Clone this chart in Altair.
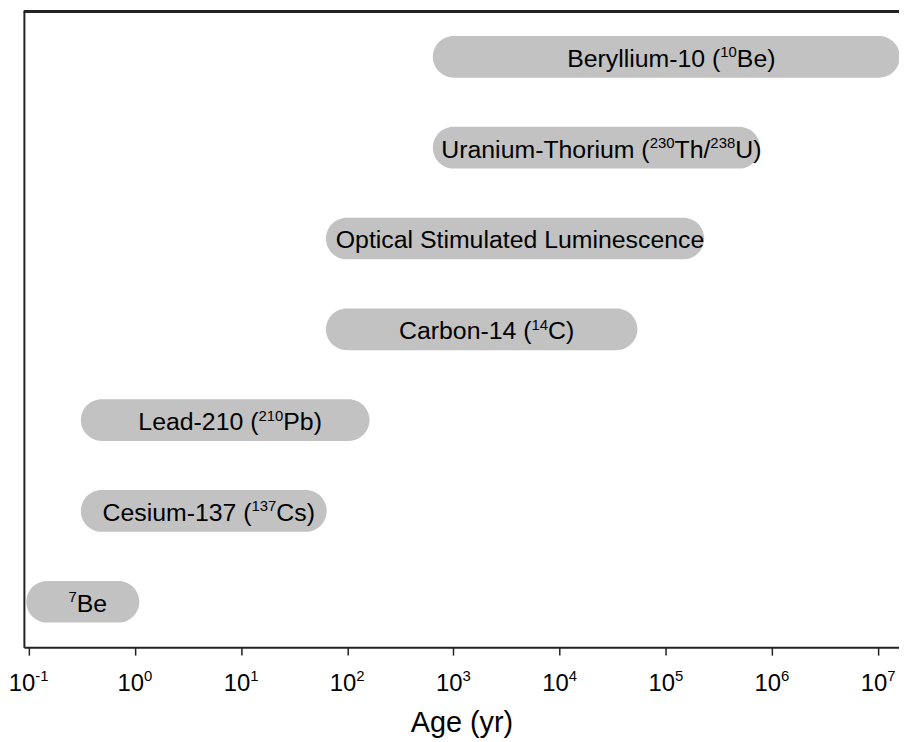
import math
import altair as alt
import pandas as pd

# Dating methods (top to bottom) and their applicable age ranges in years.
# Labels use ^...^ to mark superscript parts.
methods = [
    "Beryllium-10",
    "Uranium-Thorium",
    "Optical Stimulated Luminescence",
    "Carbon-14",
    "Lead-210",
    "Cesium-137",
    "Beryllium-7",
]
method_labels = [
    "Beryllium-10 (^10^Be)",
    "Uranium-Thorium (^230^Th/^238^U)",
    "Optical Stimulated Luminescence",
    "Carbon-14 (^14^C)",
    "Lead-210 (^210^Pb)",
    "Cesium-137 (^137^Cs)",
    "^7^Be",
]
age_min = [640, 640, 63, 63, 0.31, 0.31, 0.095]
age_max = [1.6e7, 7.7e5, 2.3e5, 5.4e4, 162, 64, 1.1]

tick_values = [0.1, 1, 10, 100, 1e3, 1e4, 1e5, 1e6, 1e7]
tick_exponents = ["-1", "0", "1", "2", "3", "4", "5", "6", "7"]

FONT = "Liberation Sans"
W, H = 881, 640
LOG_MIN, LOG_MAX = -1.045, 7.196
PX_PER_DEC = W / (LOG_MAX - LOG_MIN)
MAIN_FS, SUP_FS, TICK_FS = 25, 15, 24

# Arial / Liberation Sans advance widths (per 1000 em)
AW = {' ': 278, '(': 333, ')': 333, '/': 278, '-': 333,
      'A': 667, 'B': 667, 'C': 722, 'L': 556, 'O': 778, 'P': 667, 'S': 667,
      'T': 611, 'U': 722, 'a': 556, 'b': 556, 'c': 500, 'd': 556, 'e': 556,
      'g': 556, 'h': 556, 'i': 222, 'l': 222, 'm': 833, 'n': 556, 'o': 556,
      'p': 556, 'r': 333, 's': 500, 't': 278, 'u': 556, 'y': 500}
for dgt in "0123456789":
    AW[dgt] = 556


def tw(s, fs):
    return sum(AW.get(ch, 556) for ch in s) * fs / 1000.0


def shift(value, px):
    """Move a data value on the log axis by a pixel amount."""
    return value * 10 ** (px / PX_PER_DEC)


bars_df = pd.DataFrame({"method": methods, "start": age_min, "end": age_max})

# Split labels into normal / superscript pieces laid out from the bar centre
rows = []
for m, lab, a, b in zip(methods, method_labels, age_min, age_max):
    parts = lab.split("^")
    segs = [(p, i % 2 == 1) for i, p in enumerate(parts) if p]
    widths = [tw(p, SUP_FS if sup else MAIN_FS) for p, sup in segs]
    mid = math.sqrt(a * b)
    x0 = -sum(widths) / 2 + 5
    for (p, sup), w in zip(segs, widths):
        rows.append({"method": m, "text": p, "sup": sup, "x": shift(mid, x0)})
        x0 += w
seg_df = pd.DataFrame(rows)

tick_rows = []
for v, e in zip(tick_values, tick_exponents):
    wb, we = tw("10", TICK_FS), tw(e, SUP_FS)
    start = -(wb + we) / 2
    tick_rows.append({"x": shift(v, start), "text": "10", "sup": False})
    tick_rows.append({"x": shift(v, start + wb), "text": e, "sup": True})
tick_df = pd.DataFrame(tick_rows)

xscale = alt.Scale(type="log", domain=[10 ** LOG_MIN, 10 ** LOG_MAX], nice=False)
ysort = methods
yscale = alt.Scale(paddingInner=0, paddingOuter=0)

bars = alt.Chart(bars_df).mark_bar(height=42, cornerRadius=21, color="#c2c2c2").encode(
    x=alt.X(
        "start:Q",
        scale=xscale,
        axis=alt.Axis(
            values=tick_values,
            labels=False,
            title="Age (yr)",
            grid=False,
            tickSize=8,
            tickWidth=1.5,
            tickColor="#222222",
            domainColor="#222222",
            domainWidth=2,
            titleFont=FONT,
            titleFontSize=29,
            titleFontWeight="normal",
            titleColor="#000000",
            titlePadding=53,
        ),
    ),
    x2="end:Q",
    y=alt.Y(
        "method:N",
        sort=ysort,
        scale=yscale,
        axis=alt.Axis(labels=False, ticks=False, title=None, domainColor="#222222", domainWidth=2),
    ),
)

main_txt = alt.Chart(seg_df).transform_filter("!datum.sup").mark_text(
    font=FONT, fontSize=MAIN_FS, color="#000000", align="left", baseline="alphabetic", dy=10
).encode(
    x=alt.X("x:Q", scale=xscale),
    y=alt.Y("method:N", sort=ysort),
    text="text:N",
)
sup_txt = alt.Chart(seg_df).transform_filter("datum.sup").mark_text(
    font=FONT, fontSize=SUP_FS, color="#000000", align="left", baseline="alphabetic", dy=0.5
).encode(
    x=alt.X("x:Q", scale=xscale),
    y=alt.Y("method:N", sort=ysort),
    text="text:N",
)

tick_main = alt.Chart(tick_df).transform_filter("!datum.sup").mark_text(
    font=FONT, fontSize=TICK_FS, color="#000000", align="left", baseline="alphabetic"
).encode(x=alt.X("x:Q", scale=xscale), y=alt.value(H + 44), text="text:N")
tick_sup = alt.Chart(tick_df).transform_filter("datum.sup").mark_text(
    font=FONT, fontSize=SUP_FS, color="#000000", align="left", baseline="alphabetic"
).encode(x=alt.X("x:Q", scale=xscale), y=alt.value(H + 34.5), text="text:N")

top_rule = alt.Chart(bars_df).mark_rule(color="#222222", strokeWidth=2).encode(
    x=alt.value(0), x2=alt.value(W + 10), y=alt.value(0)
)

chart = (
    alt.layer(bars, main_txt, sup_txt, tick_main, tick_sup, top_rule)
    .resolve_scale(x="shared", y="shared")
    .properties(
        width=W,
        height=H,
        autosize=alt.AutoSizeParams(type="none"),
        padding={"left": 16, "top": 1, "right": 0, "bottom": 92},
    )
    .configure_view(stroke=None)
)

chart.save("out.html", embed_options={"renderer": "svg", "actions": False})
